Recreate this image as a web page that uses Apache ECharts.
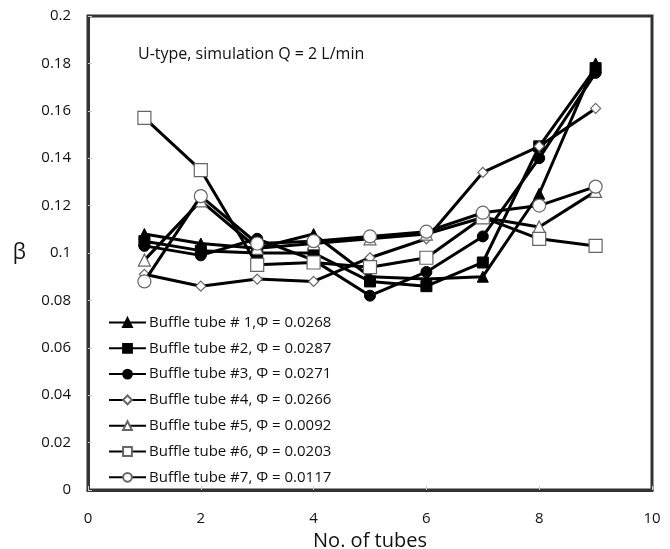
<!DOCTYPE html>
<html>
<head>
<meta charset="utf-8">
<script src="https://cdn.jsdelivr.net/npm/echarts@6/dist/echarts.min.js"></script>
<style>
  html, body { margin: 0; padding: 0; background: #fff; }
  #chart { width: 670px; height: 549px; }
</style>
</head>
<body>
<div id="chart"></div>
<script>
// tube index (x)
const tubes = [1, 2, 3, 4, 5, 6, 7, 8, 9];

// beta values
const tube1 = [0.108, 0.104, 0.102, 0.108, 0.090, 0.089, 0.090, 0.125, 0.180];
const tube2 = [0.105, 0.101, 0.100, 0.100, 0.088, 0.086, 0.096, 0.145, 0.178];
const tube3 = [0.103, 0.099, 0.106, 0.097, 0.082, 0.092, 0.107, 0.140, 0.176];
const tube4 = [0.091, 0.086, 0.089, 0.088, 0.098, 0.106, 0.134, 0.145, 0.161];
const tube5 = [0.097, 0.122, 0.102, 0.104, 0.106, 0.108, 0.115, 0.111, 0.126];
const tube6 = [0.157, 0.135, 0.095, 0.096, 0.094, 0.098, 0.115, 0.106, 0.103];
const tube7 = [0.088, 0.124, 0.104, 0.105, 0.107, 0.109, 0.117, 0.120, 0.128];

const names = [
  'Buffle tube # 1,Φ = 0.0268',
  'Buffle tube #2, Φ = 0.0287',
  'Buffle tube #3, Φ = 0.0271',
  'Buffle tube #4, Φ = 0.0266',
  'Buffle tube #5, Φ = 0.0092',
  'Buffle tube #6, Φ = 0.0203',
  'Buffle tube #7, Φ = 0.0117'
];
const allValues = [tube1, tube2, tube3, tube4, tube5, tube6, tube7];

const symbols = ['triangle', 'rect', 'circle', 'diamond', 'triangle', 'rect', 'circle'];
const sizes = [11, 11, 11, 10, 12, 13, 13];
const filled = [true, true, true, false, false, false, false];

const font = '"Open Sans", "Noto Sans", sans-serif';

const chart = echarts.init(document.getElementById('chart'));

const series = allValues.map(function (vals, i) {
  return {
    name: names[i],
    type: 'line',
    data: tubes.map(function (t, j) { return [t, vals[j]]; }),
    symbol: symbols[i],
    symbolSize: sizes[i],
    showAllSymbol: true,
    lineStyle: { color: '#000', width: 3 },
    itemStyle: filled[i]
      ? { color: '#000', borderColor: '#000', borderWidth: 1 }
      : { color: '#fff', borderColor: '#666', borderWidth: 1.2 },
    emphasis: { disabled: true },
    z: 2 + i
  };
});

chart.setOption({
  animation: false,
  title: {
    text: 'U-type, simulation Q = 2 L/min',
    left: 133,
    top: 41,
    textStyle: { fontFamily: font, fontSize: 16, fontWeight: 'normal', color: '#111' }
  },
  legend: {
    orient: 'vertical',
    left: 103,
    top: 310,
    itemWidth: 37,
    itemHeight: 11,
    itemGap: 10.8,
    textStyle: { fontFamily: font, fontSize: 15, color: '#111', padding: [0, 0, 0, -2] },
    data: names
  },
  grid: {
    left: 88, right: 18, top: 16, bottom: 59,
    outerBoundsMode: 'none',
    show: true,
    borderColor: '#333',
    borderWidth: 3
  },
  xAxis: {
    type: 'value',
    min: 0, max: 10, interval: 2,
    name: 'No. of tubes',
    nameLocation: 'middle',
    nameGap: 38,
    nameTextStyle: { fontFamily: font, fontSize: 20, color: '#111' },
    axisLine: { show: true, lineStyle: { color: '#333', width: 3 } },
    axisTick: { show: true, inside: true, length: 4, lineStyle: { color: '#ccc' } },
    axisLabel: { fontFamily: font, fontSize: 15, color: '#111', margin: 21 },
    splitLine: { show: false }
  },
  yAxis: {
    type: 'value',
    min: 0, max: 0.2, interval: 0.02,
    name: 'β',
    nameLocation: 'middle',
    nameRotate: 0,
    nameGap: 62,
    nameTextStyle: { fontFamily: font, fontSize: 21, color: '#111' },
    axisLine: { show: true, lineStyle: { color: '#333', width: 3 } },
    axisTick: { show: true, inside: true, length: 4, lineStyle: { color: '#ccc' } },
    axisLabel: { fontFamily: font, fontSize: 15, color: '#111', margin: 17 },
    splitLine: { show: false }
  },
  series: series
});
</script>
</body>
</html>
